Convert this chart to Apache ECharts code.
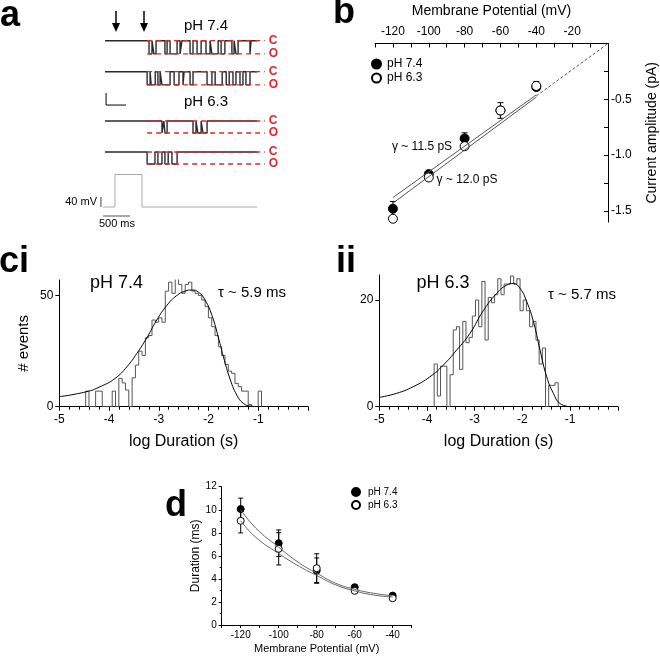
<!DOCTYPE html>
<html>
<head>
<meta charset="utf-8">
<script src="https://cdn.jsdelivr.net/npm/echarts@6/dist/echarts.min.js"></script>
<style>
  html, body { margin: 0; padding: 0; background: #fff; }
  #chart { width: 660px; height: 656px; }
</style>
</head>
<body>
<div id="chart"></div>
<script>
// ---- panel a : single-channel sweeps, openings as [start, end] in ms ----
const sweep1Open = [[815, 870], [905, 945], [1110, 1150], [1205, 1335], [1390, 1425], [1575, 1630], [1705, 1780], [1870, 1945], [1980, 2095], [2150, 2220], [2350, 2390], [2425, 2465], [2685, 2705]]
const sweep2Open = [[780, 835], [855, 930], [980, 1020], [1055, 1205], [1280, 1370], [1445, 1465], [1575, 1630], [1890, 1980], [2040, 2170], [2245, 2300], [2370, 2425], [2500, 2555], [2610, 2685]]
const sweep3Open = [[1055, 1090], [1110, 1150], [1630, 1685], [1720, 1780], [1815, 1890]]
const sweep4Open = [[780, 925], [980, 1055], [1110, 1170], [1240, 1335]]
const ampPH74 = 1.1  // pA
const ampPH63 = 1.0
const sweepEnd = 2815
const protoT = [-37, 185, 185, 685, 685, 2815]
const protoV = [0, 0, 130, 130, 0, 0]

// ---- panel b : I-V ----
const ivV = [-120, -100, -80, -60, -40]
const ivPH74 = [-1.48, -1.17, -0.85, -0.60, -0.39]
const ivErr74 = [0.065, 0.02, 0.05, 0.03, 0.03]
const ivPH63 = [-1.57, -1.20, -0.92, -0.60, -0.38]
const ivErr63 = [0.02, 0.03, 0.03, 0.07, 0.04]
const fitIV74 = [[-120, -1.38], [-40, -0.46]]
const fitIV63 = [[-120, -1.43], [-40, -0.48]]
const fitIVExtra = [[-40, -0.47], [6, 0.07]]

// ---- panel c : dwell-time histograms (log10 s) ----
const ciBinStart = -4.47
const ciBinWidth = 0.0667
const ciCounts = [7, 0, 0, 7, 7, 0, 0, 0, 7, 0, 12.7, 10.7, 7.5, 0, 13, 18.7, 25, 23, 31, 32, 39, 38, 40, 38, 52, 56, 51, 58, 55, 51, 55, 56, 52, 51, 50, 48, 45, 40, 36, 32, 27, 23, 19, 16, 15, 10.5, 9, 7, 7, 1, 0, 0, 7]
const ciFitX = [-5, -4.46, -4.18, -3.88, -3.64, -3.44, -3.24, -3.04, -2.84, -2.64, -2.47, -2.34, -2.2, -2.07, -1.93, -1.8, -1.7, -1.56, -1.43, -1.3, -1.16, -1.0]
const ciFitY = [4.5, 6.7, 9, 12.7, 18, 24, 31, 39, 45.5, 50, 52, 52.5, 51.5, 48, 41, 31, 22.4, 12, 5.2, 1.5, 0.3, 0]

const iiBinStart = -3.85
const iiBinWidth = 0.0667
const iiCounts = [8, 2, 7.6, 7.6, 0, 6, 14.4, 15, 7, 16, 12, 13, 17, 20, 15, 23.5, 12.5, 20.5, 19.5, 21, 24, 21, 23, 23, 24.5, 23, 24, 18, 20, 18, 15, 16, 12.5, 8, 11, 0, 4, 4, 4.5]
const iiFitX = [-5, -4.64, -4.29, -3.94, -3.66, -3.38, -3.1, -2.82, -2.54, -2.33, -2.19, -2.05, -1.91, -1.77, -1.63, -1.49, -1.35, -1.21, -1.0]
const iiFitY = [1.75, 2.5, 3.75, 5.6, 7.8, 10.6, 13.75, 18, 21.25, 22.8, 23.1, 22.2, 19.7, 16, 10.6, 5.6, 2.5, 0.6, 0]

// ---- panel d : open duration vs potential ----
const durV = [-120, -100, -80, -60, -40]
const dur74 = [10.06, 7.1, 4.72, 3.28, 2.55]
const durErr74 = [0.95, 1.15, 1.1, 0.2, 0.12]
const dur63 = [9.04, 6.61, 4.93, 2.96, 2.32]
const durErr63 = [1.05, 1.4, 1.25, 0.2, 0.1]
const durFitV = [-120, -112, -100, -89, -80, -70, -60, -50, -40]
const durFit74 = [10.0, 8.4, 6.75, 5.36, 4.5, 3.62, 3.1, 2.75, 2.55]
const durFit63 = [9.04, 7.6, 6.2, 5.07, 4.3, 3.48, 2.96, 2.6, 2.43]

const FONT = 'Liberation Sans, Arial, sans-serif'
const RED = '#e3262b'

function sweepPoints (openings, amp) {
  let pts = [[0, 0]]
  openings.forEach(function (o) {
    pts.push([o[0], 0], [o[0], -amp], [o[1], -amp], [o[1], 0])
  })
  pts.push([sweepEnd, 0])
  return pts
}

function histPoints (start, width, counts) {
  let pts = [[start, 0]]
  counts.forEach(function (c, i) {
    pts.push([start + i * width, c], [start + (i + 1) * width, c])
  })
  pts.push([start + counts.length * width, 0])
  return pts
}

function zip (xs, ys) {
  return xs.map(function (x, i) { return [x, ys[i]] })
}

function errData (xs, ys, es) {
  return xs.map(function (x, i) { return [x, ys[i] - es[i], ys[i] + es[i]] })
}

function errSeries (idx, data, cap) {
  return {
    type: 'custom',
    xAxisIndex: idx,
    yAxisIndex: idx,
    data: data,
    silent: true,
    renderItem: function (params, api) {
      let top = api.coord([api.value(0), api.value(2)])
      let bot = api.coord([api.value(0), api.value(1)])
      let st = { stroke: '#000', lineWidth: 1 }
      return {
        type: 'group',
        children: [
          { type: 'line', shape: { x1: top[0], y1: top[1], x2: bot[0], y2: bot[1] }, style: st },
          { type: 'line', shape: { x1: top[0] - cap, y1: top[1], x2: top[0] + cap, y2: top[1] }, style: st },
          { type: 'line', shape: { x1: bot[0] - cap, y1: bot[1], x2: bot[0] + cap, y2: bot[1] }, style: st }
        ]
      }
    }
  }
}

let myChart = echarts.init(document.getElementById('chart'))

// grids: 0-3 sweeps, 4 voltage protocol, 5 I-V, 6 ci, 7 ii, 8 duration
let grids = [
  { left: 88.8, top: 34.7, width: 178.2, height: 24 },
  { left: 88.8, top: 65.7, width: 178.2, height: 24 },
  { left: 88.8, top: 115, width: 178.2, height: 24 },
  { left: 88.8, top: 146, width: 178.2, height: 24 },
  { left: 88.8, top: 172, width: 178.2, height: 45 },
  { left: 375, top: 43.5, width: 237, height: 178.6 },
  { left: 59.3, top: 280, width: 248.7, height: 126.7 },
  { left: 379.3, top: 275, width: 238.5, height: 131.7 },
  { left: 221.7, top: 486.7, width: 190, height: 138.3 }
]

let xAxes = []
let yAxes = []
for (let i = 0; i < 4; i++) {
  xAxes.push({ gridIndex: i, type: 'value', min: -300, max: 3000, show: false })
  yAxes.push({ gridIndex: i, type: 'value', min: -1.5, max: 0.5, show: false })
}
xAxes.push({ gridIndex: 4, type: 'value', min: -300, max: 3000, show: false })
yAxes.push({ gridIndex: 4, type: 'value', min: -40, max: 140, show: false })

// b
xAxes.push({
  gridIndex: 5,
  type: 'value',
  position: 'top',
  min: -130,
  max: 0,
  interval: 10,
  axisLine: { onZero: false, lineStyle: { color: '#000' } },
  axisTick: { inside: true, length: 4, lineStyle: { color: '#000' } },
  axisLabel: {
    margin: 6,
    fontSize: 12,
    fontFamily: FONT,
    color: '#000',
    formatter: function (v) { return (v % 20 === 0 && v !== 0) ? String(v) : '' }
  },
  splitLine: { show: false },
  name: 'Membrane Potential (mV)',
  nameLocation: 'middle',
  nameGap: 25,
  nameTextStyle: { fontSize: 14, fontFamily: FONT, color: '#000' }
})
yAxes.push({
  gridIndex: 5,
  type: 'value',
  position: 'right',
  min: -1.6,
  max: 0,
  axisLine: { onZero: false, lineStyle: { color: '#000' } },
  axisTick: { inside: true, length: 4, customValues: [-1.5, -1.25, -1, -0.75, -0.5, -0.25], lineStyle: { color: '#000' } },
  axisLabel: {
    margin: 3,
    fontSize: 12,
    fontFamily: FONT,
    color: '#000',
    customValues: [-1.5, -1, -0.5],
    formatter: function (v) { return v.toFixed(1) }
  },
  splitLine: { show: false },
  name: 'Current amplitude (pA)',
  nameLocation: 'middle',
  nameRotate: 90,
  nameGap: 37,
  nameTextStyle: { fontSize: 14, fontFamily: FONT, color: '#000' }
})

// c histograms
function histX (idx) {
  return {
    gridIndex: idx,
    type: 'value',
    min: -5,
    max: 0,
    interval: 1,
    axisLine: { onZero: false, lineStyle: { color: '#000' } },
    axisTick: { length: 4, lineStyle: { color: '#000' } },
    minorTick: { show: true, splitNumber: 5, length: 3, lineStyle: { color: '#000' } },
    axisLabel: {
      margin: 7,
      fontSize: 12,
      fontFamily: FONT,
      color: '#000',
      formatter: function (v) { return v < 0 ? String(v) : '' }
    },
    splitLine: { show: false },
    name: 'log Duration (s)',
    nameLocation: 'middle',
    nameGap: 27,
    nameTextStyle: { fontSize: 16, fontFamily: FONT, color: '#000' }
  }
}
function histY (idx, max, ticks, name) {
  return {
    gridIndex: idx,
    type: 'value',
    min: 0,
    max: max,
    axisLine: { show: true, onZero: false, lineStyle: { color: '#000' } },
    axisTick: { show: true, length: 4, customValues: ticks, lineStyle: { color: '#000' } },
    axisLabel: { margin: 6, fontSize: 12, fontFamily: FONT, color: '#000', customValues: ticks },
    splitLine: { show: false },
    name: name,
    nameLocation: 'middle',
    nameRotate: 90,
    nameGap: 28,
    nameTextStyle: { fontSize: 15, fontFamily: FONT, color: '#000' }
  }
}
xAxes.push(histX(6))
yAxes.push(histY(6, 57, [0, 50], '# events'))
xAxes.push(histX(7))
yAxes.push(histY(7, 24.7, [0, 20], ''))

// d
xAxes.push({
  gridIndex: 8,
  type: 'value',
  min: -130,
  max: -30,
  interval: 10,
  axisLine: { onZero: false, lineStyle: { color: '#000' } },
  axisTick: { length: 3, lineStyle: { color: '#000' } },
  axisLabel: {
    margin: 5,
    fontSize: 10,
    fontFamily: FONT,
    color: '#000',
    formatter: function (v) { return v % 20 === 0 ? String(v) : '' }
  },
  splitLine: { show: false },
  name: 'Membrane Potential (mV)',
  nameLocation: 'middle',
  nameGap: 18,
  nameTextStyle: { fontSize: 11, fontFamily: FONT, color: '#000' }
})
yAxes.push({
  gridIndex: 8,
  type: 'value',
  min: 0,
  max: 12,
  interval: 2,
  axisLine: { show: true, onZero: false, lineStyle: { color: '#000' } },
  axisTick: { show: true, length: 3, lineStyle: { color: '#000' } },
  minorTick: { show: true, splitNumber: 2, length: 2, lineStyle: { color: '#000' } },
  axisLabel: { margin: 5, fontSize: 10, fontFamily: FONT, color: '#000' },
  splitLine: { show: false },
  name: 'Duration (ms)',
  nameLocation: 'middle',
  nameRotate: 90,
  nameGap: 20,
  nameTextStyle: { fontSize: 12, fontFamily: FONT, color: '#000' }
})

let series = []

// sweeps + C/O reference lines
let sweeps = [[sweep1Open, ampPH74], [sweep2Open, ampPH74], [sweep3Open, ampPH63], [sweep4Open, ampPH63]]
sweeps.forEach(function (s, i) {
  series.push({
    type: 'line', xAxisIndex: i, yAxisIndex: i, symbol: 'none',
    data: sweepPoints(s[0], s[1]),
    lineStyle: { color: '#2a2a2a', width: 1.4 }
  })
  let levels = [[0, 'C'], [-s[1], 'O']]
  levels.forEach(function (lv) {
    series.push({
      type: 'line', xAxisIndex: i, yAxisIndex: i, symbol: 'none',
      data: [[780, lv[0]], [2960, lv[0]]],
      lineStyle: { color: RED, width: 1.3, type: [5, 4] },
      endLabel: { show: true, formatter: lv[1], color: RED, fontWeight: 'bold', fontSize: 12, fontFamily: FONT, distance: 4 }
    })
  })
})
// scale bar near sweeps
series.push({
  type: 'line', xAxisIndex: 1, yAxisIndex: 1, symbol: 'none', clip: false,
  data: [[20, -1.78], [20, -2.78], [390, -2.78]],
  lineStyle: { color: '#000', width: 1 }
})
// voltage protocol + scale bars
series.push({
  type: 'line', xAxisIndex: 4, yAxisIndex: 4, symbol: 'none',
  data: zip(protoT, protoV),
  lineStyle: { color: '#aaa', width: 1 }
})
series.push({
  type: 'line', xAxisIndex: 4, yAxisIndex: 4, symbol: 'none',
  data: [[-75, 0], [-75, 40]],
  lineStyle: { color: '#444', width: 1 }
})
series.push({
  type: 'line', xAxisIndex: 4, yAxisIndex: 4, symbol: 'none',
  data: [[-37, -36], [463, -36]],
  lineStyle: { color: '#555', width: 1 }
})

// b
series.push({ type: 'line', xAxisIndex: 5, yAxisIndex: 5, symbol: 'none', data: fitIV74, lineStyle: { color: '#555', width: 1 } })
series.push({ type: 'line', xAxisIndex: 5, yAxisIndex: 5, symbol: 'none', data: fitIV63, lineStyle: { color: '#555', width: 1 } })
series.push({ type: 'line', xAxisIndex: 5, yAxisIndex: 5, symbol: 'none', clip: false, data: fitIVExtra, lineStyle: { color: '#555', width: 1, type: [3, 2] } })
series.push(errSeries(5, errData(ivV, ivPH74, ivErr74), 3))
series.push({
  name: 'pH 7.4', type: 'scatter', xAxisIndex: 5, yAxisIndex: 5, symbol: 'circle', symbolSize: 9,
  data: zip(ivV, ivPH74), itemStyle: { color: '#000', borderColor: '#000', borderWidth: 1, opacity: 1 }
})
series.push(errSeries(5, errData(ivV, ivPH63, ivErr63), 3))
series.push({
  name: 'pH 6.3', type: 'scatter', xAxisIndex: 5, yAxisIndex: 5, symbol: 'circle', symbolSize: 9,
  data: zip(ivV, ivPH63), itemStyle: { color: '#fff', borderColor: '#000', borderWidth: 1, opacity: 1 }
})

// ci, ii
series.push({ type: 'line', xAxisIndex: 6, yAxisIndex: 6, symbol: 'none', data: histPoints(ciBinStart, ciBinWidth, ciCounts), lineStyle: { color: '#555', width: 1 } })
series.push({ type: 'line', xAxisIndex: 6, yAxisIndex: 6, symbol: 'none', smooth: true, data: zip(ciFitX, ciFitY), lineStyle: { color: '#000', width: 1 } })
series.push({ type: 'line', xAxisIndex: 7, yAxisIndex: 7, symbol: 'none', data: histPoints(iiBinStart, iiBinWidth, iiCounts), lineStyle: { color: '#555', width: 1 } })
series.push({ type: 'line', xAxisIndex: 7, yAxisIndex: 7, symbol: 'none', smooth: true, data: zip(iiFitX, iiFitY), lineStyle: { color: '#000', width: 1 } })

// d
series.push({ type: 'line', xAxisIndex: 8, yAxisIndex: 8, symbol: 'none', smooth: true, data: zip(durFitV, durFit74), lineStyle: { color: '#666', width: 1 } })
series.push({ type: 'line', xAxisIndex: 8, yAxisIndex: 8, symbol: 'none', smooth: true, data: zip(durFitV, durFit63), lineStyle: { color: '#666', width: 1 } })
series.push(errSeries(8, errData(durV, dur74, durErr74), 2.5))
series.push({
  name: 'pH 7.4', type: 'scatter', xAxisIndex: 8, yAxisIndex: 8, symbol: 'circle', symbolSize: 7,
  data: zip(durV, dur74), itemStyle: { color: '#000', borderColor: '#000', borderWidth: 1, opacity: 1 }
})
series.push(errSeries(8, errData(durV, dur63, durErr63), 2.5))
series.push({
  name: 'pH 6.3', type: 'scatter', xAxisIndex: 8, yAxisIndex: 8, symbol: 'circle', symbolSize: 7,
  data: zip(durV, dur63), itemStyle: { color: '#fff', borderColor: '#000', borderWidth: 1, opacity: 1 }
})

function txt (x, y, text, size, opts) {
  opts = opts || {}
  return {
    type: 'text',
    x: x,
    y: y,
    style: {
      text: text,
      fontSize: size,
      fontFamily: FONT,
      fontWeight: opts.bold ? 'bold' : 'normal',
      fill: '#000',
      align: opts.align || 'center',
      verticalAlign: 'middle'
    }
  }
}
function arrow (x) {
  return [
    { type: 'line', shape: { x1: x, y1: 11, x2: x, y2: 25 }, style: { stroke: '#000', lineWidth: 1.5 } },
    { type: 'polygon', shape: { points: [[x - 4, 23], [x + 4, 23], [x, 32]] }, style: { fill: '#000' } }
  ]
}

let graphics = [
  txt(0, 16, 'a', 36, { bold: true, align: 'left' }),
  txt(333, 13, 'b', 36, { bold: true, align: 'left' }),
  txt(-1, 262, 'ci', 36, { bold: true, align: 'left' }),
  txt(336, 262, 'ii', 36, { bold: true, align: 'left' }),
  txt(165, 506, 'd', 36, { bold: true, align: 'left' }),
  txt(206, 26, 'pH 7.4', 15),
  txt(206, 102, 'pH 6.3', 15),
  txt(97, 202, '40 mV', 11, { align: 'right' }),
  txt(117, 224, '500 ms', 11),
  txt(422, 147, 'γ ~ 11.5 pS', 12),
  txt(467, 180, 'γ ~ 12.0 pS', 12),
  txt(116.5, 283, 'pH 7.4', 18),
  txt(252, 293, 'τ ~ 5.9 ms', 15),
  txt(443, 283, 'pH 6.3', 18),
  txt(582, 295, 'τ ~ 5.7 ms', 15)
].concat(arrow(116), arrow(144))

myChart.setOption({
  animation: false,
  backgroundColor: '#fff',
  textStyle: { fontFamily: FONT },
  grid: grids,
  xAxis: xAxes,
  yAxis: yAxes,
  legend: [
    {
      data: ['pH 7.4', 'pH 6.3'], left: 371, top: 58, orient: 'vertical', selectedMode: false,
      itemWidth: 11, itemHeight: 9, itemGap: 2, padding: 0,
      textStyle: { fontSize: 12, fontFamily: FONT, color: '#000' }
    },
    {
      data: ['pH 7.4', 'pH 6.3'], left: 351, top: 487, orient: 'vertical', selectedMode: false,
      itemWidth: 14, itemHeight: 8, itemGap: 3, padding: 0,
      textStyle: { fontSize: 10, fontFamily: FONT, color: '#000' }
    }
  ],
  series: series,
  graphic: graphics
})
</script>
</body>
</html>
